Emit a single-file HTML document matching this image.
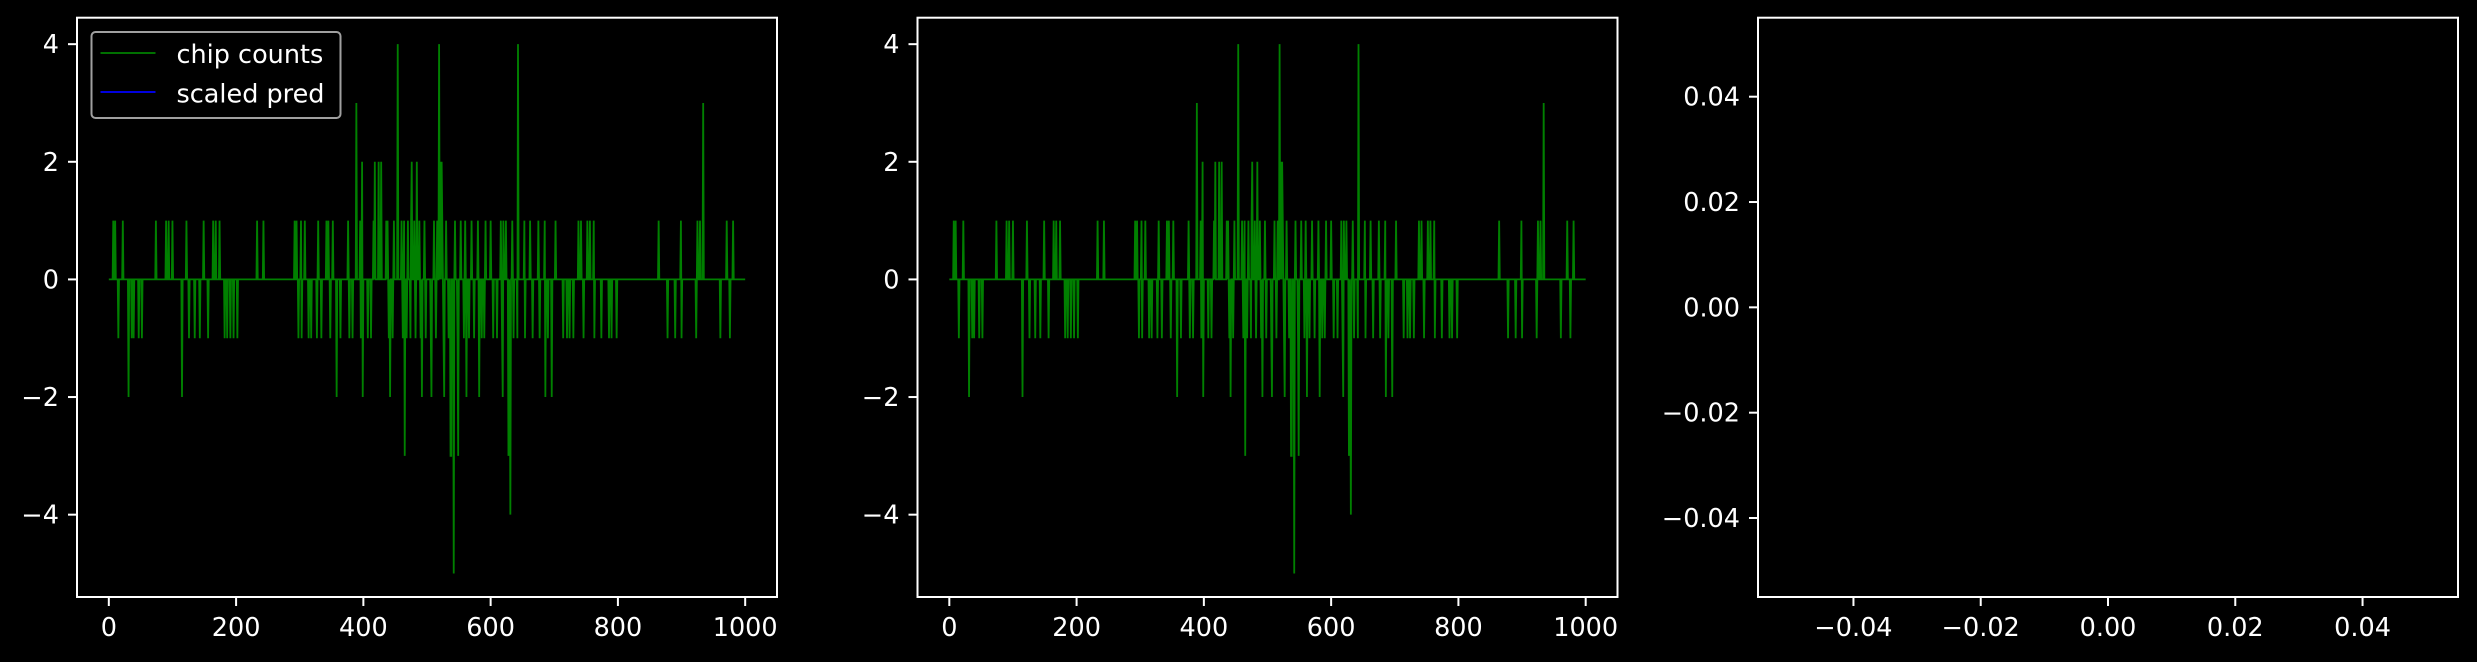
<!DOCTYPE html>
<html><head><meta charset="utf-8"><style>
html,body{margin:0;padding:0;background:#000;}
svg{display:block;}
text{font-family:"DejaVu Sans","Liberation Sans",sans-serif;font-size:25.5px;fill:#fff;}
</style></head><body>
<svg id="fig" width="2477" height="662" viewBox="0 0 2477 662" xmlns="http://www.w3.org/2000/svg">
<rect width="2477" height="662" fill="#000"/>
</svg>
<script>
const xTicks=[0,200,400,600,800,1000];
const yTicks=[-4,-2,0,2,4];
const emptyTicks=[-0.04,-0.02,0.00,0.02,0.04];
const posOnes=[7,10,22,74,90,94,100,122,149,164,168,174,233,243,292,295,302,308,329,342,345,352,376,395,416,436,438,448,460,464,470,475,480,488,496,511,516,524,530,544,553,560,570,580,592,600,616,620,624,634,653,662,675,685,702,738,742,752,756,762,864,899,925,929,971,981];
const negOnes=[15,36,39,47,52,126,135,143,156,182,186,191,196,202,298,303,314,318,327,334,348,364,378,383,396,407,412,440,446,462,468,474,482,490,498,506,514,526,534,548,558,566,574,586,590,604,610,618,630,636,642,654,666,677,690,714,720,724,730,746,763,774,786,790,798,878,890,900,923,961,976];
const bigIdx=[389,398,418,424,428,476,484,521,523,454,519,643,934,31,115,358,399,442,492,507,527,562,582,619,686,696,465,537,538,549,628,542,631];
const bigVal=[3,2,2,2,2,2,2,2,2,4,4,4,3,-2,-2,-2,-2,-2,-2,-2,-2,-2,-2,-2,-2,-2,-3,-3,-3,-3,-3,-5,-4];
const N=1001;

const NS="http://www.w3.org/2000/svg";
const svg=document.getElementById('fig');
function mk(tag,attrs,parent){const e=document.createElementNS(NS,tag);for(const k in attrs)e.setAttribute(k,attrs[k]);(parent||svg).appendChild(e);return e;}

const series=new Array(N).fill(0);
posOnes.forEach(i=>series[i]=1);
negOnes.forEach(i=>series[i]=-1);
bigIdx.forEach((i,k)=>series[i]=bigVal[k]);

const axTop=17.7,axBot=597;
function drawAxes(left,width,xmin,xmax,ymin,ymax,xt,yt,fmt,name){
  const g=mk('g',{});
  
  
  const sx=v=>left+(v-xmin)/(xmax-xmin)*width;
  const sy=v=>axBot-(v-ymin)/(ymax-ymin)*(axBot-axTop);
  xt.forEach(v=>{
    const x=sx(v);
    const t=mk('line',{x1:x,x2:x,y1:axBot,y2:axBot+9,stroke:'#fff','stroke-width':2},g);
    
    
    const l=mk('text',{x:x,y:636,'text-anchor':'middle'},g);
    l.textContent=fmt(v);
    
    
  });
  yt.forEach(v=>{
    const y=sy(v);
    const t=mk('line',{x1:left-9,x2:left,y1:y,y2:y,stroke:'#fff','stroke-width':2},g);
    
    
    const l=mk('text',{x:left-18,y:y+9,'text-anchor':'end'},g);
    l.textContent=fmt(v);
    
    
  });
  return {g,sx,sy};
}
function fmtInt(v){return v<0?'\u2212'+Math.abs(v):String(v);}
function fmtDec(v){const s=Math.abs(v).toFixed(2);return (v<-1e-9?'\u2212':'')+s;}

const lefts=[77,917.5];
lefts.forEach((L,idx)=>{
  const ax=drawAxes(L,700,-50,1050,-5.4,4.45,xTicks,yTicks,fmtInt,'axes-'+(idx+1));
  let d='';
  series.forEach((v,i)=>{d+=(i?'L':'M')+ax.sx(i).toFixed(2)+' '+ax.sy(v).toFixed(2);});
  const p=mk('path',{d:d,fill:'none',stroke:'#008000','stroke-width':1.8,'stroke-linejoin':'miter'},ax.g);
  
  
  const f=mk('rect',{x:L,y:axTop,width:700,height:axBot-axTop,fill:'none',stroke:'#fff','stroke-width':2},ax.g);
  
  
});
const ax3=drawAxes(1758,700,-0.055,0.055,-0.055,0.055,emptyTicks,emptyTicks,fmtDec,'axes-3');
const f3=mk('rect',{x:1758,y:axTop,width:700,height:axBot-axTop,fill:'none',stroke:'#fff','stroke-width':2},ax3.g);



const lg=mk('g',{});


mk('rect',{x:91.5,y:32,width:249,height:86,rx:4,fill:'#000','fill-opacity':0.8,stroke:'#a0a0a0','stroke-width':2},lg);
const l1=mk('line',{x1:100.5,x2:155.5,y1:53,y2:53,stroke:'#008000','stroke-width':1.8},lg);


const t1=mk('text',{x:176.5,y:63},lg);t1.textContent='chip counts';


const l2=mk('line',{x1:100.5,x2:155.5,y1:92,y2:92,stroke:'#0000ff','stroke-width':1.8},lg);


const t2=mk('text',{x:176.5,y:102.5},lg);t2.textContent='scaled pred';


</script>
</body></html>
